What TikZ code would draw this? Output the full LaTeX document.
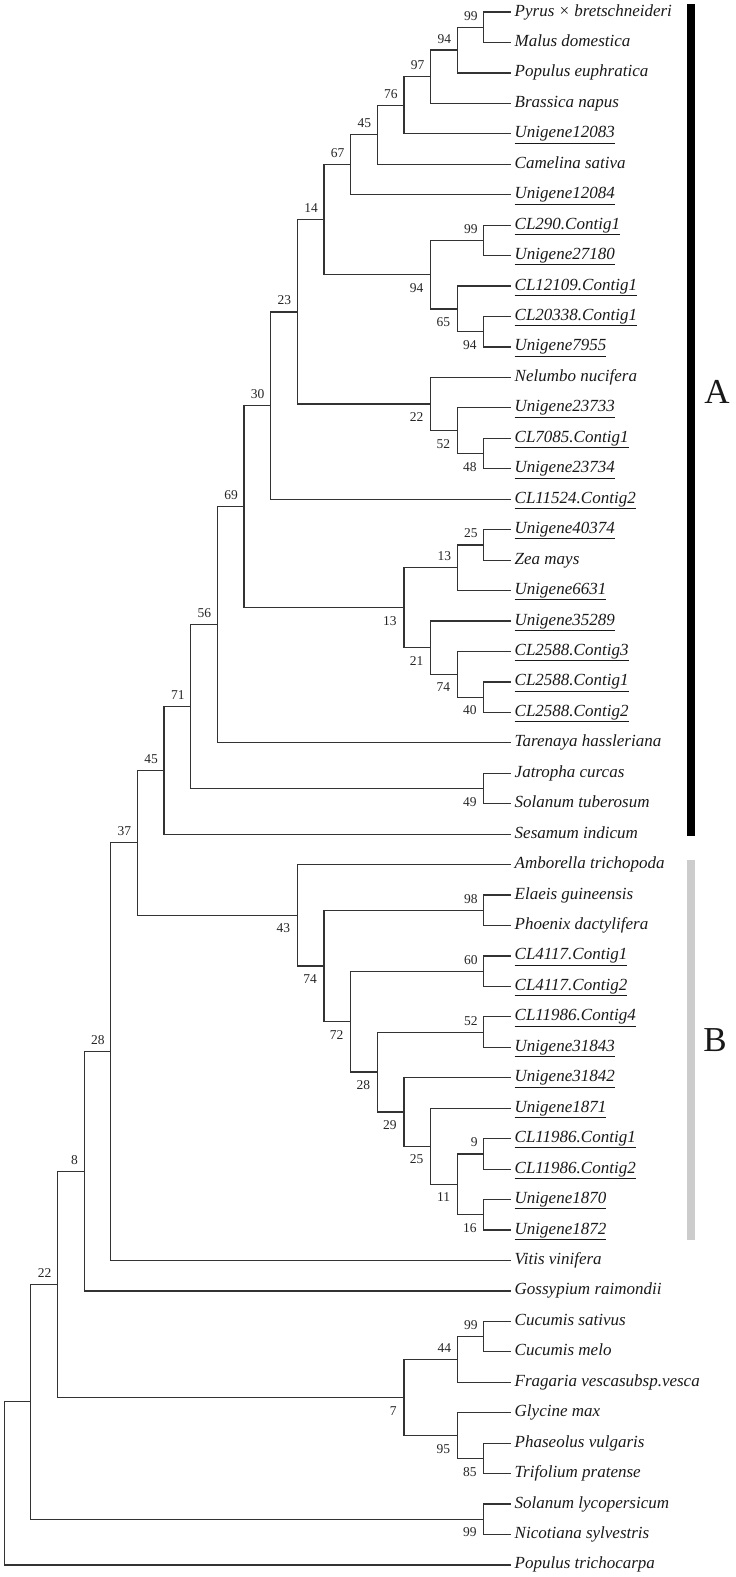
\documentclass[tikz,border=0pt]{standalone}
\usepackage{fontspec}
\setmainfont{Liberation Serif}
\begin{document}
\begin{tikzpicture}[x=1pt, y=-1pt,
    branch/.style={draw=black!80, line width=1.2pt},
    leaf/.style={anchor=west, inner xsep=4pt, inner ysep=0pt, text height=12pt, text depth=4pt,
        text=black!90, font=\fontsize{17}{20}\selectfont\itshape},
    bsup/.style={anchor=base east, inner sep=0pt, xshift=-6pt, yshift=7pt,
        text=black!85, font=\fontsize{13.5}{16}\selectfont},
    bsdn/.style={anchor=north east, inner sep=0pt, xshift=-7pt, yshift=-8.5pt,
        text=black!85, font=\fontsize{13.5}{16}\selectfont},
    clade/.style={inner sep=0pt, text=black!90, font=\fontsize{35}{40}\selectfont}]
    \useasboundingbox (0,0) rectangle (736,1577);

    % Leaves
    \foreach \t [count=\i] in {Pyrus × bretschneideri, Malus domestica, Populus euphratica,
        Brassica napus, \underline{Unigene12083}, Camelina sativa, \underline{Unigene12084},
        \underline{CL290.Contig1}, \underline{Unigene27180}, \underline{CL12109.Contig1},
        \underline{CL20338.Contig1}, \underline{Unigene7955}, Nelumbo nucifera,
        \underline{Unigene23733}, \underline{CL7085.Contig1}, \underline{Unigene23734},
        \underline{CL11524.Contig2}, \underline{Unigene40374}, Zea mays, \underline{Unigene6631},
        \underline{Unigene35289}, \underline{CL2588.Contig3}, \underline{CL2588.Contig1},
        \underline{CL2588.Contig2}, Tarenaya hassleriana, Jatropha curcas, Solanum tuberosum,
        Sesamum indicum, Amborella trichopoda, Elaeis guineensis, Phoenix dactylifera,
        \underline{CL4117.Contig1}, \underline{CL4117.Contig2}, \underline{CL11986.Contig4},
        \underline{Unigene31843}, \underline{Unigene31842}, \underline{Unigene1871},
        \underline{CL11986.Contig1}, \underline{CL11986.Contig2}, \underline{Unigene1870},
        \underline{Unigene1872}, Vitis vinifera, Gossypium raimondii, Cucumis sativus,
        Cucumis melo, Fragaria vescasubsp.vesca, Glycine max, Phaseolus vulgaris,
        Trifolium pratense, Solanum lycopersicum, Nicotiana sylvestris, Populus trichocarpa}
        \node[leaf] (l\i) at (510.5,{12+30.45*(\i-1)}) {\t};

    % Internal nodes: name/height/y/upper child/lower child/bootstrap/label side
    \foreach \n/\h/\y/\a/\b/\v/\p in {
        a1/1/27.2/l1.west/l2.west/99/bsup, a2/2/50.05/a1/l3.west/94/bsup,
        a3/3/76.7/a2/l4.west/97/bsup, a4/4/105.25/a3/l5.west/76/bsup,
        a5/5/134.75/a4/l6.west/45/bsup, a6/6/164.7/a5/l7.west/67/bsup,
        a7/1/240.4/l8.west/l9.west/99/bsup, a8/1/331.7/l11.west/l12.west/94/bsdn,
        a9/2/308.9/l10.west/a8/65/bsdn, a10/3/274.65/a7/a9/94/bsdn,
        a11/7/219.7/a6/a10/14/bsup, a12/1/453.5/l15.west/l16.west/48/bsdn,
        a13/2/430.7/l14.west/a12/52/bsdn, a14/3/404.05/l13.west/a13/22/bsdn,
        a15/8/311.9/a11/a14/23/bsup, a16/9/405.55/a15/l17.west/30/bsup,
        a17/1/544.9/l18.west/l19.west/25/bsup, a18/2/567.7/a17/l20.west/13/bsup,
        a19/1/697.1/l23.west/l24.west/40/bsdn, a20/2/674.3/l22.west/a19/74/bsdn,
        a21/3/647.65/l21.west/a20/21/bsdn, a22/4/607.7/a18/a21/13/bsdn,
        a23/10/506.6/a16/a22/69/bsup, a24/11/624.7/a23/l25.west/56/bsup,
        a25/1/788.5/l26.west/l27.west/49/bsdn, a26/12/706.6/a24/a25/71/bsup,
        a27/13/770.4/a26/l28.west/45/bsup,
        b1/1/910.3/l30.west/l31.west/98/bsup, b2/1/971.2/l32.west/l33.west/60/bsup,
        b3/1/1032.1/l34.west/l35.west/52/bsup, b4/1/1153.9/l38.west/l39.west/9/bsup,
        b5/1/1214.8/l40.west/l41.west/16/bsdn, b6/2/1184.3/b4/b5/11/bsdn,
        b7/3/1146.25/l37.west/b6/25/bsdn, b8/4/1112/l36.west/b7/29/bsdn,
        b9/5/1072.05/b3/b8/28/bsdn, b10/6/1021.6/b2/b9/72/bsdn,
        b11/7/965.95/b1/b10/74/bsdn, b12/8/915.3/l29.west/b11/43/bsdn,
        c1/14/842.85/a27/b12/37/bsup, c2/15/1051.65/c1/l42.west/28/bsup,
        c3/16/1171.3/c2/l43.west/8/bsup,
        d1/1/1336.6/l44.west/l45.west/99/bsup, d2/2/1359.4/d1/l46.west/44/bsup,
        d3/1/1458.4/l48.west/l49.west/85/bsdn, d4/2/1435.55/l47.west/d3/95/bsdn,
        d5/4/1397.5/d2/d4/7/bsdn, c4/17/1284.4/c3/d5/22/bsup,
        d6/1/1519.3/l50.west/l51.west/99/bsdn}
    {
        \coordinate (\n) at ({510.5-26.65*\h},\y);
        \draw[branch] (\n) |- (\a) (\n) |- (\b);
        \node[\p] (v\n) at (\n) {\v};
    }

    % Root and its child carry no value
    \coordinate (c5) at ({510.5-26.65*18},1401.85);
    \draw[branch] (c5) |- (c4) (c5) |- (d6);
    \coordinate (root) at ({510.5-26.65*19},1483.4);
    \draw[branch] (root) |- (c5) (root) |- (l52.west);

    % Clade bars
    \fill[black] (687,4) rectangle (695,836);
    \fill[black!20] (687,860) rectangle (695,1240);
    \node[clade] (cladeA) at (717,392) {A};
    \node[clade] (cladeB) at (715,1040) {B};
\end{tikzpicture}
\end{document}
